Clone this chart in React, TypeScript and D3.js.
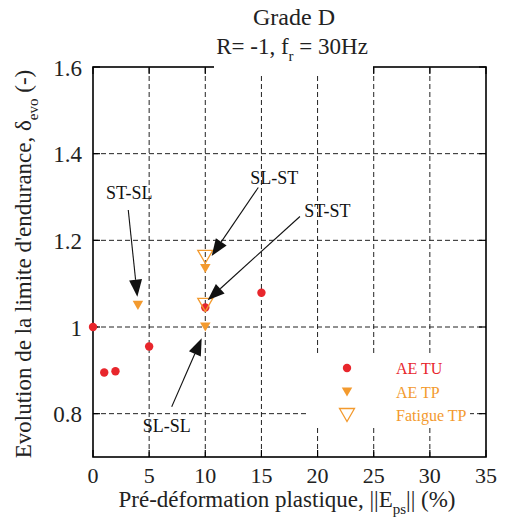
import React from "react";
import * as d3 from "d3";

const xTicks = [0, 5, 10, 15, 20, 25, 30, 35];
const yTicks = [0.8, 1.0, 1.2, 1.4, 1.6];
const yTickLabels = ["0.8", "1", "1.2", "1.4", "1.6"];

const aeTuX = [0, 1, 2, 5, 10, 15];
const aeTuY = [1.0, 0.895, 0.898, 0.955, 1.045, 1.079];

const aeTpX = [4, 10, 10];
const aeTpY = [1.05, 1.135, 1.0];

const fatTpX = [10, 10];
const fatTpY = [1.162, 1.051];

const annLabels = ["ST-SL", "SL-ST", "ST-ST", "SL-SL"];
// label position (data units) and arrow start/end (data units)
const annTextX = [3.23, 16.15, 20.87, 6.56];
const annTextY = [1.31, 1.345, 1.268, 0.772];
const annFromX = [3.14, 14.72, 18.43, 7.01];
const annFromY = [1.27, 1.322, 1.255, 0.816];
const annToX = [3.95, 10.57, 10.21, 9.68];
const annToY = [1.07, 1.164, 1.062, 0.974];

const legendLabels = ["AE TU", "AE TP", "Fatigue TP"];

const RED = "#e8262c";
const ORANGE = "#f39a2e";
const FONT = "'Liberation Serif', 'Times New Roman', serif";

export default function App() {
  const W = 505, H = 527;
  const x = d3.scaleLinear().domain([0, 35]).range([93, 486]);
  const y = d3.scaleLinear().domain([0.7, 1.6]).range([457, 67]);
  const [x0, x1] = x.range();
  const [y0, y1] = y.range();

  const tri = (cx: number, cy: number, s: number) => {
    const h = s * 0.866;
    return `M${cx - s / 2},${cy - h / 2}L${cx + s / 2},${cy - h / 2}L${cx},${cy + h / 2}Z`;
  };

  const arrow = (fx: number, fy: number, tx: number, ty: number) => {
    const ang = Math.atan2(ty - fy, tx - fx);
    const L = 17, Wd = 6.5;
    const bx = tx - L * Math.cos(ang), by = ty - L * Math.sin(ang);
    const px = -Math.sin(ang) * Wd, py = Math.cos(ang) * Wd;
    return {
      line: `M${fx},${fy}L${bx},${by}`,
      head: `M${tx},${ty}L${bx + px},${by + py}L${bx - px},${by - py}Z`,
    };
  };

  return (
    <svg width={W} height={H} style={{ position: "absolute", left: 0, top: 0, background: "#fff" }} fontFamily={FONT}>
      {/* grid */}
      <g stroke="#222" strokeWidth={1} strokeDasharray="5,3">
        {xTicks.slice(1, -1).map((t) => (
          <line key={"gx" + t} x1={x(t)} x2={x(t)} y1={y0} y2={y1} />
        ))}
        {yTicks.slice(0, -1).map((t) => (
          <line key={"gy" + t} x1={x0} x2={x1} y1={y(t)} y2={y(t)} />
        ))}
      </g>
      {/* legend background */}
      <rect x={307} y={353} width={163} height={74} fill="#fff" />
      {/* ticks */}
      <g stroke="#000" strokeWidth={1.2}>
        {xTicks.map((t) => (
          <g key={"tx" + t}>
            <line x1={x(t)} x2={x(t)} y1={y0} y2={y0 - 7} />
            <line x1={x(t)} x2={x(t)} y1={y1} y2={y1 + 7} />
          </g>
        ))}
        {yTicks.map((t) => (
          <g key={"ty" + t}>
            <line x1={x0} x2={x0 + 7} y1={y(t)} y2={y(t)} />
            <line x1={x1} x2={x1 - 7} y1={y(t)} y2={y(t)} />
          </g>
        ))}
      </g>
      <rect x={x0} y={y1} width={x1 - x0} height={y0 - y1} fill="none" stroke="#000" strokeWidth={1.6} />
      {/* title */}
      <rect x={214} y={58} width={159} height={18} fill="#fff" />
      <text x={294} y={25} textAnchor="middle" fontSize={24} fill="#222">Grade D</text>
      <text x={292} y={54} textAnchor="middle" fontSize={23} fill="#222">
        R= -1, f<tspan fontSize={15} dy={7}>r</tspan><tspan dy={-7}> = 30Hz</tspan>
      </text>
      {/* tick labels */}
      {xTicks.map((t) => (
        <text key={"lx" + t} x={x(t)} y={483} textAnchor="middle" fontSize={22} fill="#222">{t}</text>
      ))}
      {yTicks.map((t, i) => (
        <text key={"ly" + t} x={82} y={y(t) + 8.5} textAnchor="end" fontSize={23} fill="#222">{yTickLabels[i]}</text>
      ))}
      {/* axis titles */}
      <text x={287} y={507} textAnchor="middle" fontSize={23} fill="#222">
        Pré-déformation plastique, ||E<tspan fontSize={15} dy={7}>ps</tspan><tspan dy={-7}>|| (%)</tspan>
      </text>
      <text transform={`translate(31,${(y0 + y1) / 2 + 2}) rotate(-90)`} textAnchor="middle" fontSize={23} fill="#222">
        Evolution de la limite d'endurance, δ<tspan fontSize={15} dy={7}>evo</tspan><tspan dy={-7}> (-)</tspan>
      </text>
      {/* data */}
      {aeTuX.map((v, i) => (
        <circle key={"tu" + i} cx={x(v)} cy={y(aeTuY[i])} r={4.2} fill={RED} />
      ))}
      {aeTpX.map((v, i) => (
        <path key={"tp" + i} d={tri(x(v), y(aeTpY[i]), 10.5)} fill={ORANGE} />
      ))}
      {fatTpX.map((v, i) => (
        <path key={"ft" + i} d={tri(x(v), y(fatTpY[i]), 15)} fill="none" stroke={ORANGE} strokeWidth={1.3} />
      ))}
      {/* annotations */}
      {annLabels.map((lab, i) => {
        const a = arrow(x(annFromX[i]), y(annFromY[i]), x(annToX[i]), y(annToY[i]));
        return (
          <g key={lab}>
            <text x={x(annTextX[i])} y={y(annTextY[i]) + 6} textAnchor="middle" fontSize={18} fill="#111">{lab}</text>
            <path d={a.line} stroke="#111" strokeWidth={1.1} />
            <path d={a.head} fill="#111" />
          </g>
        );
      })}
      {/* legend */}
      <circle cx={347} cy={368} r={4.2} fill={RED} />
      <path d={tri(347, 392, 10.5)} fill={ORANGE} />
      <path d={tri(347, 415, 15)} fill="none" stroke={ORANGE} strokeWidth={1.3} />
      {legendLabels.map((l, i) => (
        <text key={l} x={396} y={[368, 392, 415][i] + 5.5} fontSize={16} fill={i === 0 ? RED : ORANGE}>{l}</text>
      ))}
    </svg>
  );
}
